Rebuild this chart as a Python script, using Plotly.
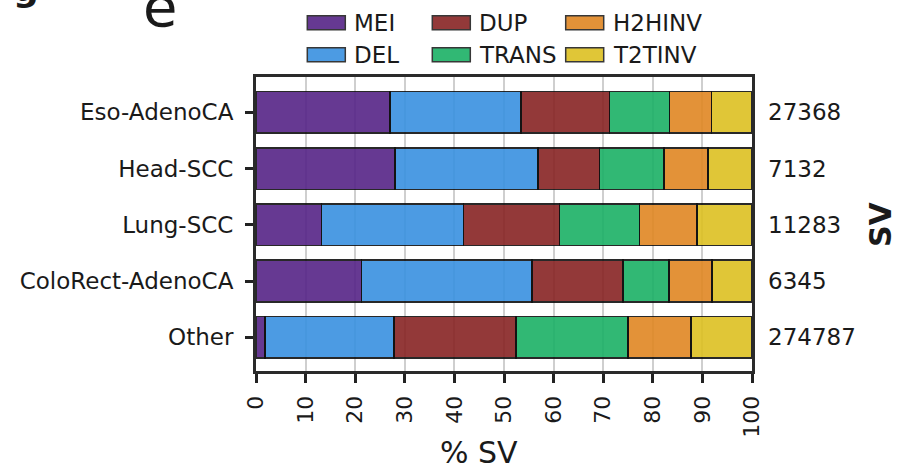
import plotly.graph_objects as go

# ---------------- data ----------------
categories = ["Eso-AdenoCA", "Head-SCC", "Lung-SCC", "ColoRect-AdenoCA", "Other"]
sv_totals = [27368, 7132, 11283, 6345, 274787]
sv_types = ["MEI", "DEL", "DUP", "TRANS", "H2HINV", "T2TINV"]
pct_mei = [27.0, 28.05, 13.2, 21.3, 1.8]
pct_del = [26.4, 28.75, 28.6, 34.4, 26.05]
pct_dup = [17.9, 12.45, 19.4, 18.3, 24.55]
pct_trans = [12.1, 12.95, 16.1, 9.3, 22.65]
pct_h2hinv = [8.4, 8.95, 11.6, 8.6, 12.65]
pct_t2tinv = [8.2, 8.85, 11.1, 8.1, 12.3]
x_ticks = list(range(0, 101, 10))

series = [pct_mei, pct_del, pct_dup, pct_trans, pct_h2hinv, pct_t2tinv]
colors = ["#562487", "#3991e0", "#882424", "#1bb166", "#e08723", "#ddc022"]

# ---------------- layout geometry (pixels) ----------------
W, H = 898, 470
L, R, T, B = 256, 898 - 752, 77, 470 - 371
PW, PH = W - L - R, H - T - B
FONT = "DejaVu Sans"


def px_x(px):
    return (px - L) / PW


def px_y(py):
    return (H - B - py) / PH


ypos = list(range(len(categories)))

fig = go.Figure()
for name, vals, col in zip(sv_types, series, colors):
    fig.add_trace(go.Bar(
        x=vals, y=ypos, orientation="h", name=name,
        marker=dict(color=col, line=dict(color="#111111", width=1.6)),
        opacity=0.9, showlegend=False,
    ))

# invisible trace to carry the right-hand axis
fig.add_trace(go.Scatter(x=[None] * len(ypos), y=ypos, yaxis="y2",
                         mode="markers", showlegend=False, hoverinfo="skip"))

fig.update_layout(
    width=W, height=H,
    margin=dict(l=L, r=R, t=T, b=B, pad=0),
    paper_bgcolor="white", plot_bgcolor="white",
    barmode="stack", bargap=0.26,
    font=dict(family=FONT, size=23, color="#1a1a1a"),
    xaxis=dict(
        range=[0, 100], tickvals=x_ticks, ticktext=[str(v) for v in x_ticks],
        tickangle=-90, tickfont=dict(size=22),
        ticks="outside", ticklen=9, tickwidth=2.5, tickcolor="#222222",
        ticklabelstandoff=4,
        showgrid=True, gridcolor="#cfcfcf", gridwidth=2,
        showline=True, linecolor="#2a2a2a", linewidth=3, mirror=True,
        zeroline=False,
    ),
    yaxis=dict(
        range=[4.6, -0.63], tickvals=ypos, ticktext=categories,
        tickfont=dict(size=23),
        ticks="outside", ticklen=8, tickwidth=2.5, tickcolor="#222222",
        ticklabelstandoff=7,
        showgrid=False, showline=True, linecolor="#2a2a2a", linewidth=3,
        mirror=True, zeroline=False,
    ),
    yaxis2=dict(
        overlaying="y", side="right", range=[4.6, -0.63],
        tickvals=ypos, ticktext=[str(v) for v in sv_totals],
        tickfont=dict(size=23), ticks="", ticklabelstandoff=15,
        showgrid=False, showline=False, zeroline=False,
    ),
)

ann = []
# axis titles
ann.append(dict(text="% SV", x=px_x(479), y=px_y(452), xref="paper", yref="paper",
                showarrow=False, font=dict(size=30, family=FONT, color="#1a1a1a"),
                xanchor="center", yanchor="middle"))
ann.append(dict(text="<b>SV</b>", x=px_x(880), y=px_y(224), xref="paper", yref="paper",
                showarrow=False, textangle=-90,
                font=dict(size=30, family=FONT, color="#1a1a1a"),
                xanchor="center", yanchor="middle"))
# panel labels (partly cut at the top edge, as in the original panel)
ann.append(dict(text="e", x=px_x(160), y=px_y(6), xref="paper", yref="paper",
                showarrow=False, font=dict(size=56, family=FONT, color="#1a1a1a"),
                xanchor="center", yanchor="middle"))
ann.append(dict(text="<b>g</b>", x=px_x(26), y=px_y(-11), xref="paper", yref="paper",
                showarrow=False, font=dict(size=36, family=FONT, color="#1a1a1a"),
                xanchor="center", yanchor="middle"))

# manual legend: 3 columns x 2 rows (column-major order)
col_sw_x = [307.3, 432.3, 565.7]
row_cy = [22.8, 54.7]
sw_w, sw_h = 38, 14
shapes = []
for i, (name, col) in enumerate(zip(sv_types, colors)):
    c, r = i // 2, i % 2
    x0 = col_sw_x[c]
    cy = row_cy[r]
    shapes.append(dict(type="rect", xref="paper", yref="paper",
                       x0=px_x(x0), x1=px_x(x0 + sw_w),
                       y0=px_y(cy + sw_h / 2), y1=px_y(cy - sw_h / 2),
                       fillcolor=col, opacity=0.9,
                       line=dict(color="#222222", width=1.5)))
    ann.append(dict(text=name, x=px_x(x0 + sw_w + 7), y=px_y(cy), xref="paper", yref="paper",
                    showarrow=False, font=dict(size=23, family=FONT, color="#1a1a1a"),
                    xanchor="left", yanchor="middle"))

fig.update_layout(annotations=ann, shapes=shapes)
fig.write_html("out.html")
